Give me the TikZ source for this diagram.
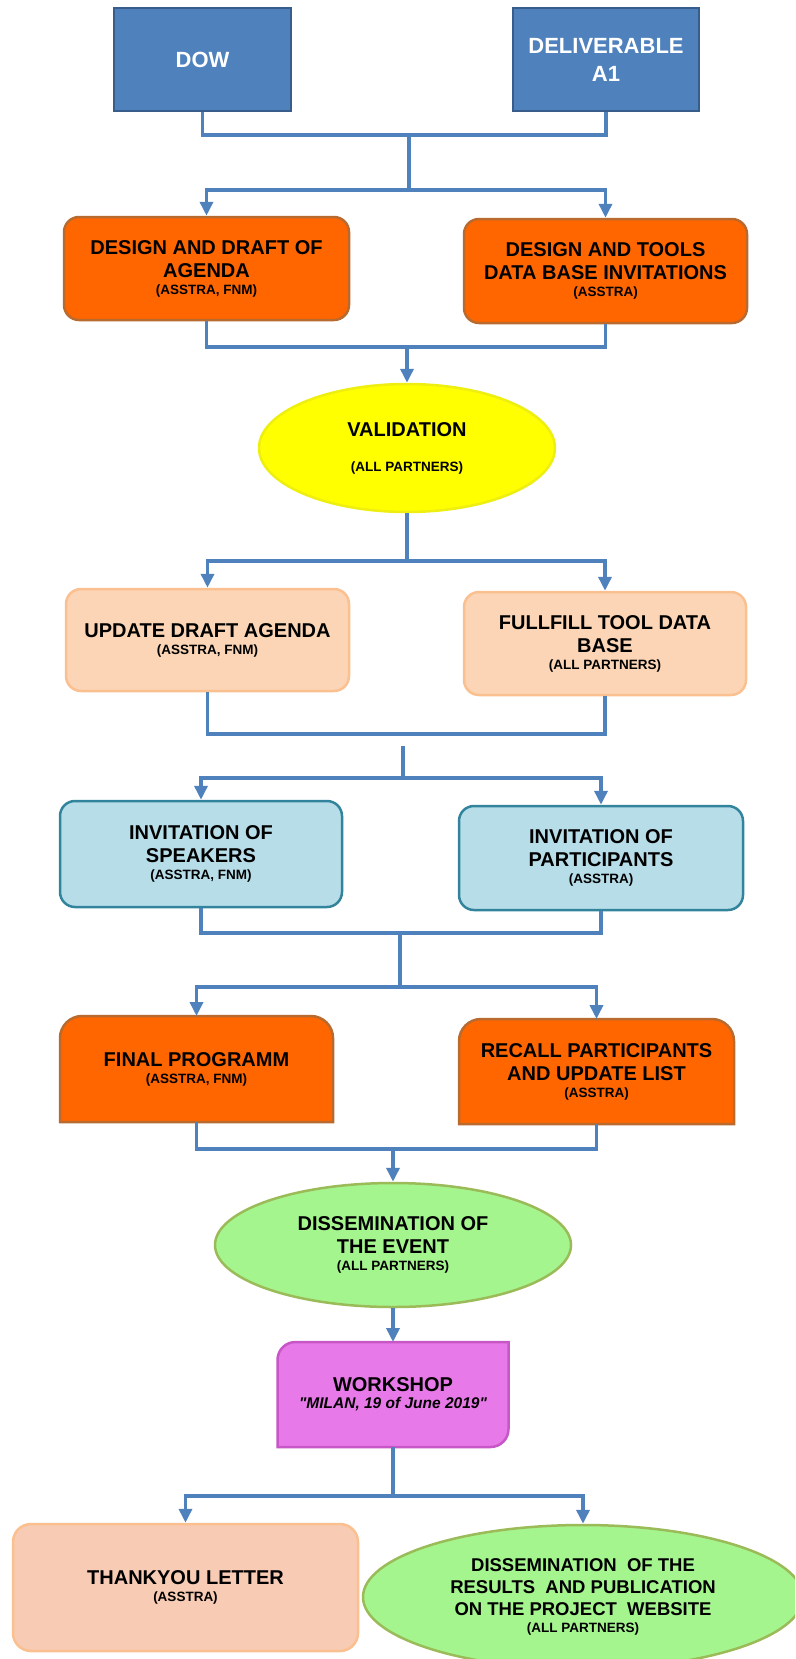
\documentclass[tikz,border=0pt]{standalone}
\usepackage{fontspec}
\setmainfont{Liberation Sans}
\newfontfamily\quotefont{Liberation Sans}
\usetikzlibrary{arrows.meta,calc,backgrounds,shapes.geometric}
\definecolor{cblue}{HTML}{4F81BD}
\definecolor{cbluebd}{HTML}{385D8A}
\definecolor{corange}{HTML}{FF6600}
\definecolor{corangebd}{HTML}{B96A2E}
\definecolor{cyellow}{HTML}{FFFF00}
\definecolor{cyellowbd}{HTML}{EEEE10}
\definecolor{cpeach}{HTML}{FBD5B5}
\definecolor{cpeachbd}{HTML}{FAC08F}
\definecolor{cpink}{HTML}{F8CBB4}
\definecolor{clblue}{HTML}{B7DDE8}
\definecolor{clbluebd}{HTML}{31849B}
\definecolor{cgreen}{HTML}{A5F58F}
\definecolor{cgreenbd}{HTML}{9BBB59}
\definecolor{cviolet}{HTML}{E879E8}
\definecolor{cvioletbd}{HTML}{C756C7}
\newcommand\smalltxt[1]{{\fontsize{13.5}{16}\selectfont #1}}
\newcommand\topround[4]{%
\begin{pgfonlayer}{background}
\filldraw[fill=#3, draw=#4, line width=2.5pt] (#1.south west) -- ($(#1.north west)+(0,#2)$) .. controls ($(#1.north west)+(0,0.45*#2)$) and ($(#1.north west)+(0.45*#2,0)$) .. ($(#1.north west)+(#2,0)$) -- ($(#1.north east)+(-#2,0)$) .. controls ($(#1.north east)+(-0.45*#2,0)$) and ($(#1.north east)+(0,0.45*#2)$) .. ($(#1.north east)+(0,#2)$) -- (#1.south east) -- cycle;
\end{pgfonlayer}}
\begin{document}
\begin{tikzpicture}[x=1pt,y=-1pt,
  mainfont/.style={font=\fontsize{20}{23}\selectfont\bfseries},
  bluebox/.style={rectangle, fill=cblue, draw=cbluebd, line width=2.5pt, text=white, align=center, font=\fontsize{22}{28}\selectfont\bfseries},
  obox/.style={rectangle, rounded corners=15pt, fill=corange, draw=corangebd, line width=2.5pt, align=center, mainfont},
  pbox/.style={rectangle, rounded corners=15pt, fill=cpeach, draw=cpeachbd, line width=2.5pt, align=center, mainfont},
  lbbox/.style={rectangle, rounded corners=15pt, fill=clblue, draw=clbluebd, line width=2.5pt, align=center, mainfont},
  plain/.style={rectangle, outer sep=0pt, align=center, mainfont},
  ell/.style={ellipse, inner sep=0pt, line width=2.5pt, align=center, mainfont},
  conn/.style={draw=cblue, line width=3.6pt},
  arr/.style={conn, -{Triangle[length=14pt,width=13pt]}}
]
\useasboundingbox (0,0) rectangle (795,1659);
\clip (0,0) rectangle (795,1659);

% row 0
\node[bluebox, minimum width=177pt, minimum height=103pt] (dow) at (202.5,59.5) {DOW};
\node[bluebox, minimum width=186pt, minimum height=103pt] (del) at (606,59.5) {DELIVERABLE\\A1};

% row 1
\node[obox, minimum width=285pt, minimum height=103pt] (a1) at (206.5,268.5) {DESIGN AND DRAFT OF\\AGENDA\\[-6pt]\smalltxt{(ASSTRA, FNM)}};
\node[obox, minimum width=283pt, minimum height=104pt] (b1) at (605.5,271) {DESIGN AND TOOLS\\DATA BASE INVITATIONS\\[-6pt]\smalltxt{(ASSTRA)}};

% validation
\node[ell, fill=cyellow, draw=cyellowbd, minimum width=296pt, minimum height=128pt] (val) at (407,448) {VALIDATION\\[12pt]\smalltxt{(ALL PARTNERS)}};

% row 2
\node[pbox, minimum width=283pt, minimum height=102pt] (a2) at (207.5,640) {UPDATE DRAFT AGENDA\\[-6pt]\smalltxt{(ASSTRA, FNM)}};
\node[pbox, minimum width=282pt, minimum height=103pt] (b2) at (605,643.5) {FULLFILL TOOL DATA\\BASE\\[-6pt]\smalltxt{(ALL PARTNERS)}};

% row 3
\node[lbbox, minimum width=282pt, minimum height=106pt] (a3) at (201,854) {INVITATION OF\\SPEAKERS\\[-6pt]\smalltxt{(ASSTRA, FNM)}};
\node[lbbox, minimum width=284pt, minimum height=104pt] (b3) at (601,858) {INVITATION OF\\PARTICIPANTS\\[-6pt]\smalltxt{(ASSTRA)}};

% row 4
\node[plain, minimum width=273pt, minimum height=106pt] (a4) at (196.5,1069) {FINAL PROGRAMM\\[-6pt]\smalltxt{(ASSTRA, FNM)}};
\topround{a4}{22}{corange}{corangebd}
\node[plain, minimum width=275pt, minimum height=105pt] (b4) at (596.5,1071.5) {RECALL PARTICIPANTS\\AND UPDATE LIST\\[-6pt]\smalltxt{(ASSTRA)}};
\topround{b4}{22}{corange}{corangebd}

% dissemination
\node[ell, fill=cgreen, draw=cgreenbd, minimum width=356pt, minimum height=124pt] (dis) at (393,1245) {DISSEMINATION OF\\THE EVENT\\[-6pt]\smalltxt{(ALL PARTNERS)}};

% workshop
\node[plain, minimum width=231pt, minimum height=105pt] (ws) at (393,1394.5) {WORKSHOP\\[-6pt]{\quotefont\fontsize{15.5}{17}\selectfont\bfseries\itshape "MILAN, 19 of June 2019"}};
\begin{pgfonlayer}{background}
\filldraw[fill=cviolet, draw=cvioletbd, line width=2.5pt]
  (ws.south west) -- ($(ws.north west)+(0,18)$) .. controls ($(ws.north west)+(0,8)$) and ($(ws.north west)+(8,0)$) .. ($(ws.north west)+(18,0)$)
  -- (ws.north east) -- ($(ws.south east)+(0,-18)$) .. controls ($(ws.south east)+(0,-8)$) and ($(ws.south east)+(-8,0)$) .. ($(ws.south east)+(-18,0)$) -- cycle;
\end{pgfonlayer}

% last row
\node[rectangle, rounded corners=18pt, fill=cpink, draw=cpeachbd, line width=2.5pt, align=center, mainfont, minimum width=345pt, minimum height=127pt] (ty) at (185.5,1587.5) {THANKYOU LETTER\\[-6pt]\smalltxt{(ASSTRA)}};
\node[ell, fill=cgreen, draw=cgreenbd, minimum width=440pt, minimum height=144pt, font=\fontsize{18.5}{22}\selectfont\bfseries] (res) at (583,1597) {DISSEMINATION \ OF THE\\RESULTS \ AND PUBLICATION\\ON THE PROJECT \ WEBSITE\\[-5pt]\smalltxt{(ALL PARTNERS)}};

% connectors
\coordinate (j1) at (409,135);
\coordinate (j2) at (409,190);
\draw[conn] (dow.south) |- (j1) -| (del.south);
\draw[conn] (j1) -- (j2);
\draw[arr] (j2) -| (a1.north);
\draw[arr] (j2) -| (b1.north);

\coordinate (j3) at (407,347);
\draw[conn] (a1.south) |- (j3) -| (b1.south);
\draw[arr] (j3) -- (val.north);

\coordinate (j4) at (407,561);
\draw[conn] (val.south) -- (j4);
\draw[arr] (j4) -| (a2.north);
\draw[arr] (j4) -| (b2.north);

\coordinate (j5) at (403,734);
\draw[conn] (a2.south) |- (j5) -| (b2.south);
\coordinate (j6) at (403,746);
\coordinate (j7) at (403,778);
\draw[conn] (j6) -- (j7);
\draw[arr] (j7) -| (a3.north);
\draw[arr] (j7) -| (b3.north);

\coordinate (j8) at (400,933);
\draw[conn] (a3.south) |- (j8) -| (b3.south);
\coordinate (j9) at (400,987);
\draw[conn] (j8) -- (j9);
\draw[arr] (j9) -| (a4.north);
\draw[arr] (j9) -| (b4.north);

\coordinate (j10) at (393,1149);
\draw[conn] (a4.south) |- (j10) -| (b4.south);
\draw[arr] (j10) -- (dis.north);
\draw[arr] (dis.south) -- (ws.north);

\coordinate (j11) at (393,1496);
\draw[conn] (ws.south) -- (j11);
\draw[arr] (j11) -| (ty.north);
\draw[arr] (j11) -| (res.north);
\end{tikzpicture}
\end{document}
